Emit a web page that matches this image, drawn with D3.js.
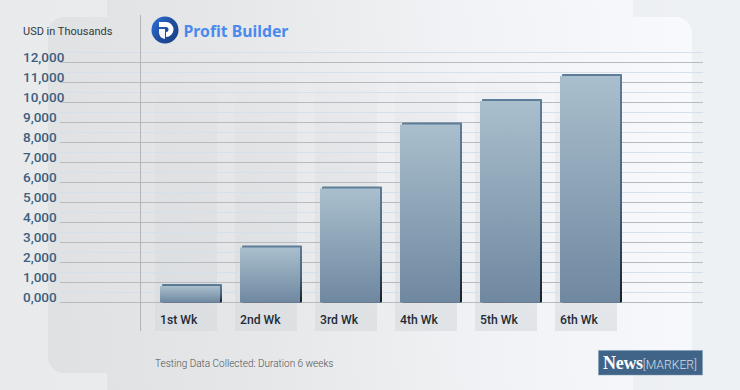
<!DOCTYPE html>
<html>
<head>
<meta charset="utf-8">
<script src="https://cdn.jsdelivr.net/npm/d3@7"></script>
<style>
  html, body { margin: 0; padding: 0; background: #eceef0; }
  svg { display: block; }
  text { font-family: Roboto, sans-serif; }
</style>
</head>
<body>
<div id="graphicContainer"></div>
<script>
var weeks = ["1st Wk", "2nd Wk", "3rd Wk", "4th Wk", "5th Wk", "6th Wk"]
var profits = [825, 2750, 5700, 8900, 10075, 11325]
var majorTicks = [0, 1000, 2000, 3000, 4000, 5000, 6000, 7000, 8000, 9000, 10000, 11000, 12000]
var minorTicks = [500, 1500, 2500, 3500, 4500, 5500, 6500, 7500, 8500, 9500, 10500, 11500, 12500]

var width = 740
var height = 390

var svg = d3.select("#graphicContainer").append("svg")
  .attr("width", width)
  .attr("height", height)

var defs = svg.append("defs")

function linear(id, attrs, stops) {
  var g = defs.append("linearGradient").attr("id", id)
  Object.keys(attrs).forEach(k => g.attr(k, attrs[k]))
  stops.forEach(s => {
    g.append("stop").attr("offset", s[0]).attr("stop-color", s[1]).attr("stop-opacity", s[2] === undefined ? 1 : s[2])
  })
}

linear("bgBase", { gradientUnits: "userSpaceOnUse", x1: 0, y1: 0, x2: 740, y2: 0 },
  [[0, "#e9eaeb"], [1, "#eef1f4"]])
linear("bgPanel", { gradientUnits: "userSpaceOnUse", x1: 48, y1: 200, x2: 692, y2: 130 },
  [[0, "#e0e1e2"], [0.3, "#e6e7e8"], [0.65, "#f1f2f5"], [1, "#f8f9fc"]])
linear("barFace", { x1: 0, y1: 0, x2: 0, y2: 1 },
  [[0, "#a9bfcd"], [1, "#6f88a0"]])
linear("barSide", { x1: 0, y1: 0, x2: 0, y2: 1 },
  [[0, "#5d7c97"], [0.55, "#48647e"], [1, "#14202a"]])
linear("bandFade", { gradientUnits: "userSpaceOnUse", x1: 0, y1: 70, x2: 0, y2: 331 },
  [[0, "#d6dade", 0], [0.25, "#d6dade", 0.3], [1, "#d6dade", 0.6]])
linear("logoFill", { x1: 0, y1: 0.1, x2: 1, y2: 0.9 },
  [[0, "#2f6fd8"], [0.5, "#1f4fa0"], [1, "#1b3f86"]])

// background panels
svg.append("rect").attr("width", width).attr("height", height).attr("fill", "url(#bgBase)")
svg.append("rect").attr("x", 107).attr("y", 0).attr("width", 526).attr("height", height).attr("fill", "url(#bgPanel)")
svg.append("rect").attr("x", 48).attr("y", 17).attr("width", 644).attr("height", 356).attr("rx", 16).attr("fill", "url(#bgPanel)")

var margin = { top: 62.5, bottom: 87.5, left: 140, right: 37 }

var x = d3.scaleBand()
  .domain(weeks)
  .range([margin.left + 10, 630])
  .paddingInner(0.25)
  .paddingOuter(0.125)

var y = d3.scaleLinear()
  .domain([0, 12000])
  .range([height - margin.bottom, margin.top])

// column bands
svg.append("g").selectAll("rect")
  .data(weeks)
  .enter().append("rect")
  .attr("x", d => x(d) - 5)
  .attr("y", 70)
  .attr("width", 62)
  .attr("height", 261)
  .attr("fill", "url(#bandFade)")

// grid
svg.append("g").selectAll("line")
  .data(minorTicks)
  .enter().append("line")
  .attr("x1", 60)
  .attr("x2", 703)
  .attr("y1", d => y(d))
  .attr("y2", d => y(d))
  .attr("stroke", "#d5e0ea")
  .attr("stroke-width", 1)

svg.append("g").selectAll("line")
  .data(majorTicks)
  .enter().append("line")
  .attr("x1", 60)
  .attr("x2", 703)
  .attr("y1", d => y(d))
  .attr("y2", d => y(d))
  .attr("stroke", "#b8bac1")
  .attr("stroke-width", 1)

svg.append("line")
  .attr("x1", 140.5).attr("x2", 140.5)
  .attr("y1", 15).attr("y2", 331)
  .attr("stroke", "#b4b5b8")

// y axis labels
var yAxis = d3.axisLeft(y)
  .tickValues(majorTicks)
  .tickSize(0)
  .tickFormat(d => d === 0 ? "0,000" : d3.format(",")(d))

var yG = svg.append("g")
  .attr("class", "y")
  .attr("transform", "translate(23,0)")
  .call(yAxis)
yG.select(".domain").remove()
yG.selectAll("text")
  .attr("x", 0)
  .attr("dy", 0)
  .attr("y", -1.5)
  .attr("text-anchor", "start")
  .style("font-family", "Roboto, sans-serif")
  .style("font-size", "13.5px")
  .style("font-weight", 500)
  .attr("fill", "#3d5f80")

// bars: dark back face then lit front face
var bars = svg.append("g").selectAll("g")
  .data(weeks.map((w, i) => ({ week: w, value: profits[i] })))
  .enter().append("g")

bars.append("rect")
  .attr("x", d => x(d.week) + 2)
  .attr("y", d => y(d.value) - 2)
  .attr("width", x.bandwidth())
  .attr("height", d => y(0) - y(d.value) + 2)
  .attr("rx", 1)
  .attr("fill", "url(#barSide)")

bars.append("rect")
  .attr("x", d => x(d.week))
  .attr("y", d => y(d.value))
  .attr("width", x.bandwidth())
  .attr("height", d => y(0) - y(d.value))
  .attr("fill", "url(#barFace)")

// category labels
var xAxis = d3.axisBottom(x).tickSize(0)
var xG = svg.append("g")
  .attr("class", "x")
  .attr("transform", "translate(0," + y(0) + ")")
  .call(xAxis)
xG.select(".domain").remove()
xG.selectAll("text")
  .attr("x", -x.bandwidth() / 2)
  .attr("y", 21.5)
  .attr("dy", 0)
  .attr("text-anchor", "start")
  .style("font-family", "Roboto, sans-serif")
  .style("font-size", "12.2px")
  .style("font-weight", 500)
  .attr("fill", "#222c36")

// headings
svg.append("text")
  .attr("x", 23).attr("y", 35)
  .attr("font-size", 11)
  .attr("fill", "#33393f")
  .text("USD in Thousands")

svg.append("text")
  .attr("x", 155).attr("y", 367)
  .attr("font-size", 10)
  .attr("font-weight", 300)
  .attr("fill", "#4c5258")
  .text("Testing Data Collected: Duration 6 weeks")

// logo
var logo = svg.append("g").attr("transform", "translate(165,30)")
logo.append("circle").attr("r", 13.5).attr("fill", "url(#logoFill)")
logo.append("path")
  .attr("d", "M-6,-8 L1,-8 A7.5,7.5 0 0 1 1,7 L1,2 A2.5,2.5 0 0 0 1,-3 L-6,-3 Z")
  .attr("fill", "#fff")
logo.append("path")
  .attr("d", "M-6,-1 L0,-1 L0,9 A7,7 0 0 1 -6,3 Z")
  .attr("fill", "#fff")
  .attr("opacity", 0.95)

svg.append("text")
  .attr("x", 183.5).attr("y", 37)
  .style("font-family", "'Noto Sans', sans-serif")
  .attr("font-size", 15.8)
  .attr("font-weight", 700)
  .attr("fill", "#4a8aee")
  .text("Profit Builder")

// footer badge
svg.append("rect")
  .attr("x", 598.5).attr("y", 350.5)
  .attr("width", 104).attr("height", 24.5)
  .attr("fill", "#3f6487")
  .attr("stroke", "#7f9ab2")
  .attr("stroke-width", 0.5)

var badge = svg.append("text")
  .attr("x", 603).attr("y", 368.5)
  .attr("fill", "#fff")
badge.append("tspan")
  .style("font-family", "'Liberation Serif', serif")
  .attr("font-size", 18)
  .attr("font-weight", 700)
  .attr("letter-spacing", -0.3)
  .text("News")
badge.append("tspan")
  .attr("font-size", 12.2)
  .attr("font-weight", 300)
  .attr("fill", "#d5dfe8")
  .text("[MARKER]")
</script>
</body>
</html>
